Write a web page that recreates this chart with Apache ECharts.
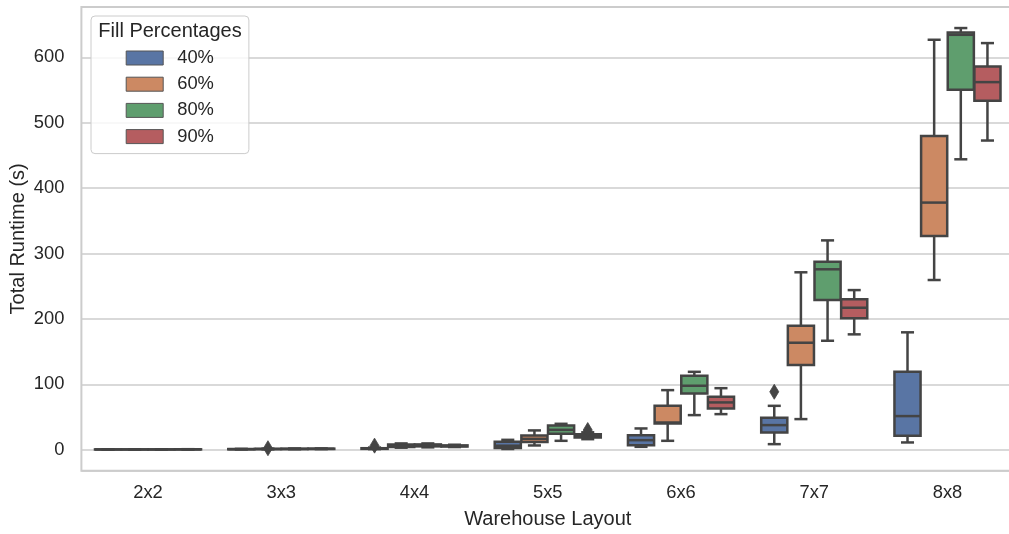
<!DOCTYPE html>
<html>
<head>
<meta charset="utf-8">
<script src="https://cdn.jsdelivr.net/npm/echarts@6/dist/echarts.min.js"></script>
<style>
  html, body { margin: 0; padding: 0; background: #ffffff; }
  #chart { width: 1009px; height: 534px; }
</style>
</head>
<body>
<div id="chart"></div>
<script>
// Warehouse layouts on the x axis
const layouts = ['2x2', '3x3', '4x4', '5x5', '6x6', '7x7', '8x8'];

// Fill percentages (one box per layout for each)
const fillNames = ['40%', '60%', '80%', '90%'];

// Box statistics per layout: [lower whisker, Q1, median, Q3, upper whisker] in seconds
const fill40 = [
  [0.1, 0.2, 0.3, 0.4, 0.5],
  [0.3, 0.5, 0.7, 0.9, 1.2],
  [0.8, 1.2, 1.6, 2.2, 3.2],
  [1.0, 2.5, 6.0, 12.0, 15.0],
  [4.3, 6.9, 14.5, 22.2, 32.4],
  [8.4, 26.3, 37.5, 48.7, 67.0],
  [11.0, 21.1, 51.3, 119.0, 179.4]
];
const fill60 = [
  [0.1, 0.2, 0.3, 0.4, 0.6],
  [0.5, 0.8, 1.0, 1.2, 1.5],
  [3.0, 4.0, 5.5, 8.0, 9.5],
  [6.4, 11.5, 16.5, 21.7, 29.4],
  [13.5, 40.1, 41.5, 67.0, 91.0],
  [46.7, 129.3, 163.5, 189.5, 271.2],
  [259.4, 326.8, 377.8, 479.8, 626.8]
];
const fill80 = [
  [0.1, 0.2, 0.3, 0.4, 0.6],
  [0.7, 0.9, 1.1, 1.4, 1.7],
  [3.5, 5.0, 6.5, 8.0, 9.5],
  [13.5, 24.2, 30.3, 37.0, 39.5],
  [52.8, 86.0, 97.7, 113.0, 119.0],
  [166.5, 228.8, 275.8, 287.5, 320.0],
  [444.0, 550.3, 634.4, 638.0, 644.7]
];
const fill90 = [
  [0.2, 0.3, 0.4, 0.5, 0.7],
  [0.8, 1.0, 1.3, 1.5, 1.8],
  [4.0, 4.8, 5.5, 6.5, 7.5],
  [16.0, 18.5, 21.0, 23.5, 26.5],
  [54.3, 63.0, 72.2, 80.9, 94.0],
  [176.3, 200.8, 217.0, 229.9, 244.0],
  [472.7, 533.4, 562.0, 586.0, 621.7]
];

// Outliers: [layout index, runtime]
const outliers40 = [[2, 6.1], [5, 88.5]];
const outliers60 = [[1, 2.2]];
const outliers80 = [];
const outliers90 = [[3, 30.0]];

const boxStats = [fill40, fill60, fill80, fill90];
const outlierSets = [outliers40, outliers60, outliers80, outliers90];
const colors = ['#5975a4', '#cc8963', '#5f9e6e', '#b55d60'];

const FONT = '"Liberation Sans", Arial, "DejaVu Sans", sans-serif';
const TEXT = '#262626';
const EDGE = '#444444';
const LW = 2.5;

// Horizontal position of a box: groups span 80% of the band, split into equal slots
function slotGeometry(api, cat, hue) {
  const center = api.coord([cat, 0])[0];
  const band = api.size([1, 0])[0];
  const slot = band * 0.8 / fillNames.length;
  return { cx: center + (hue - (fillNames.length - 1) / 2) * slot, w: slot * 0.98 };
}

function boxRenderer(hue) {
  return function (params, api) {
    const cat = api.value(0);
    const g = slotGeometry(api, cat, hue);
    const y = (i) => api.coord([cat, api.value(i)])[1];
    const yMin = y(1), yQ1 = y(2), yMed = y(3), yQ3 = y(4), yMax = y(5);
    const half = g.w / 2, cap = g.w / 4;
    const line = { stroke: EDGE, lineWidth: LW };
    return {
      type: 'group',
      children: [
        { type: 'line', shape: { x1: g.cx, y1: yQ3, x2: g.cx, y2: yMax }, style: line },
        { type: 'line', shape: { x1: g.cx, y1: yQ1, x2: g.cx, y2: yMin }, style: line },
        { type: 'line', shape: { x1: g.cx - cap, y1: yMax, x2: g.cx + cap, y2: yMax }, style: line },
        { type: 'line', shape: { x1: g.cx - cap, y1: yMin, x2: g.cx + cap, y2: yMin }, style: line },
        {
          type: 'rect',
          shape: { x: g.cx - half, y: yQ3, width: g.w, height: Math.max(yQ1 - yQ3, 0) },
          style: { fill: colors[hue], stroke: EDGE, lineWidth: LW }
        },
        { type: 'line', shape: { x1: g.cx - half, y1: yMed, x2: g.cx + half, y2: yMed }, style: line }
      ]
    };
  };
}

function outlierRenderer(params, api) {
  const cat = api.value(0);
  const hue = api.value(1);
  const g = slotGeometry(api, cat, hue);
  const cy = api.coord([cat, api.value(2)])[1];
  const hw = 4.5, hh = 7.5;
  return {
    type: 'polygon',
    shape: { points: [[g.cx, cy - hh], [g.cx + hw, cy], [g.cx, cy + hh], [g.cx - hw, cy]] },
    style: { fill: EDGE, stroke: EDGE, lineWidth: 0.8 }
  };
}

const series = boxStats.map((rows, hue) => ({
  name: fillNames[hue],
  type: 'custom',
  renderItem: boxRenderer(hue),
  itemStyle: { color: colors[hue] },
  encode: { x: 0, y: [1, 2, 3, 4, 5] },
  data: rows.map((r, i) => [i].concat(r))
}));

const outlierData = [];
outlierSets.forEach((set, hue) => set.forEach(o => outlierData.push([o[0], hue, o[1]])));
series.push({
  name: 'outliers',
  type: 'custom',
  renderItem: outlierRenderer,
  encode: { x: 0, y: 2 },
  data: outlierData,
  z: 5
});

const chart = echarts.init(document.getElementById('chart'), null, { renderer: 'canvas' });
chart.setOption({
  animation: false,
  backgroundColor: '#ffffff',
  textStyle: { fontFamily: FONT, color: TEXT },
  grid: {
    left: 81.4, top: 7, width: 932.7, height: 463.7,
    outerBoundsMode: 'none',
    containLabel: false,
    show: true, borderColor: '#cccccc', borderWidth: 2, backgroundColor: 'transparent'
  },
  xAxis: {
    type: 'category',
    data: layouts,
    boundaryGap: true,
    name: 'Warehouse Layout',
    nameLocation: 'middle',
    nameGap: 39,
    nameMoveOverlap: false,
    nameTextStyle: { fontSize: 20, color: TEXT, fontFamily: FONT },
    axisLine: { show: false },
    axisTick: { show: false },
    splitLine: { show: false },
    axisLabel: { fontSize: 18.33, color: TEXT, fontFamily: FONT, margin: 13 }
  },
  yAxis: {
    type: 'value',
    min: -32.2,
    max: 676.9,
    splitNumber: 5,
    name: 'Total Runtime (s)',
    nameLocation: 'middle',
    nameGap: 53,
    nameMoveOverlap: false,
    nameTextStyle: { fontSize: 20, color: TEXT, fontFamily: FONT },
    axisLine: { show: false },
    axisTick: { show: false },
    axisLabel: {
      fontSize: 18.33, color: TEXT, fontFamily: FONT, margin: 17,
      showMinLabel: false, showMaxLabel: false
    },
    splitLine: { show: true, lineStyle: { color: '#cccccc', width: 1.5 } }
  },
  legend: {
    data: fillNames,
    orient: 'vertical',
    left: 91,
    top: 16,
    padding: [32, 35, 7, 34.7],
    itemWidth: 37,
    itemHeight: 14,
    itemGap: 6.2,
    icon: 'rect',
    selectedMode: false,
    itemStyle: { borderColor: '#555555', borderWidth: 1 },
    textStyle: { fontSize: 18.33, color: TEXT, fontFamily: FONT, lineHeight: 20, padding: [0, 0, 0, 9] },
    backgroundColor: 'rgba(255,255,255,0.8)',
    borderColor: '#cccccc',
    borderWidth: 1,
    borderRadius: 4
  },
  graphic: [{
    type: 'text',
    x: 98.3,
    y: 31.7,
    z: 100,
    style: { text: 'Fill Percentages', fontSize: 20, fontFamily: FONT, fill: TEXT, verticalAlign: 'middle' }
  }],
  series: series
});
</script>
</body>
</html>
